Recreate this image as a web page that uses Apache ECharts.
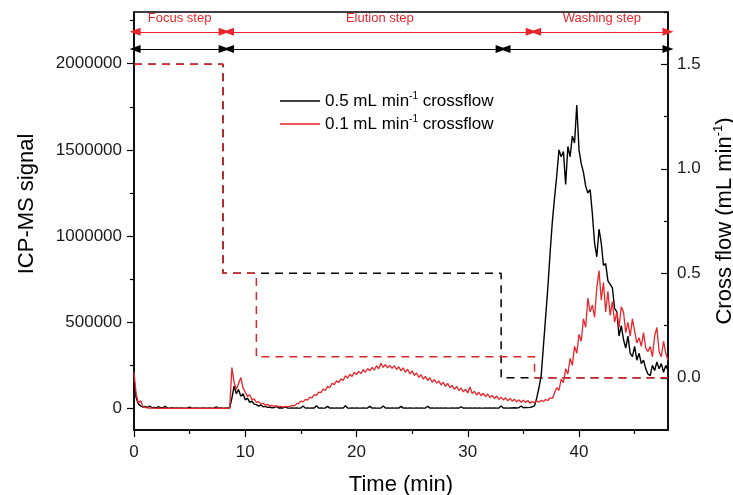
<!DOCTYPE html>
<html>
<head>
<meta charset="utf-8">
<script src="https://cdn.jsdelivr.net/npm/echarts@6/dist/echarts.min.js"></script>
<style>
    html, body { margin: 0; padding: 0; background: #fff; }
    #chart { width: 733px; height: 495px; }
</style>
</head>
<body>
<div id="chart"></div>
<script>
// ICP-MS traces: one reading every 0.2 min from 0 to 48 min, in thousands of counts
var sampleStep = 0.2;
var signalUnit = 1000;
var signal05 = [
    150, 60, 25, 15, 8, 12, 5, 14, 4, 6,
    3, 10, 4, 3, 12, 3, 2, 4, 2, 3,
    2, 3, 2, 2, 3, 8, 2, 2, 3, 2,
    2, 3, 2, 2, 3, 2, 2, 10, 2, 3,
    2, 2, 3, 3, 60, 130, 85, 110, 70, 85,
    50, 60, 35, 42, 25, 22, 14, 20, 10, 12,
    6, 8, 4, 5, 12, 3, 4, 3, 9, 3,
    2, 3, 2, 3, 2, 3, 14, 2, 3, 2,
    3, 2, 15, 2, 3, 2, 3, 12, 2, 3,
    2, 3, 2, 3, 2, 16, 3, 2, 3, 2,
    3, 2, 2, 3, 2, 3, 12, 2, 3, 2,
    2, 3, 14, 2, 3, 2, 3, 2, 3, 2,
    12, 2, 3, 2, 3, 2, 2, 3, 2, 3,
    2, 3, 13, 2, 3, 2, 3, 2, 3, 2,
    3, 2, 2, 3, 2, 3, 2, 10, 2, 3,
    2, 3, 2, 3, 2, 3, 2, 2, 3, 2,
    3, 2, 3, 2, 3, 14, 2, 3, 2, 3,
    3, 4, 3, 5, 14, 4, 6, 5, 6, 10,
    15, 60, 120, 190, 360, 530, 700, 900, 1080, 1220,
    1350, 1500, 1460, 1490, 1300, 1520, 1460, 1580, 1540, 1760,
    1500, 1420, 1370, 1290, 1250, 1270, 1130, 960, 880, 1040,
    960, 830, 840, 740, 720, 700, 580, 560, 420, 480,
    400, 350, 420, 320, 300, 360, 280, 320, 260, 280,
    230, 200, 190, 250, 220, 270, 230, 260, 210, 250,
    220
];
var signal01 = [
    210, 80, 30, 45, 12, 6, 3, 2, 2, 2,
    1, 2, 1, 1, 2, 1, 1, 2, 1, 1,
    2, 1, 1, 2, 1, 1, 2, 1, 1, 2,
    1, 1, 2, 1, 1, 2, 1, 1, 2, 1,
    1, 2, 1, 2, 237, 150, 110, 145, 180, 120,
    95, 70, 80, 50, 55, 35, 40, 25, 30, 20,
    24, 15, 18, 12, 15, 10, 12, 8, 12, 10,
    12, 18, 15, 26, 30, 42, 38, 52, 48, 66,
    62, 80, 76, 95, 92, 112, 104, 128, 120, 146,
    138, 160, 150, 172, 162, 190, 176, 198, 185, 210,
    196, 215, 202, 226, 210, 232, 218, 238, 222, 248,
    230, 262, 238, 255, 236, 250, 232, 248, 226, 242,
    218, 236, 210, 228, 200, 218, 192, 206, 180, 196,
    170, 186, 162, 178, 152, 168, 146, 160, 136, 152,
    128, 146, 120, 134, 110, 128, 104, 118, 96, 112,
    90, 124, 86, 100, 78, 94, 74, 88, 68, 84,
    62, 76, 58, 72, 52, 66, 48, 62, 44, 58,
    42, 54, 38, 50, 36, 48, 34, 46, 30, 40,
    34, 44, 36, 48, 40, 52, 46, 62, 58, 90,
    120, 105, 170, 150, 230, 200, 290, 250, 360, 320,
    430, 390, 520, 470, 640, 560, 600, 530, 700, 800,
    630, 730, 560, 680, 540, 620, 500, 560, 470, 590,
    560, 440, 500, 420, 520, 450, 380, 410, 360, 440,
    350, 330, 360, 300, 420, 470, 330, 300, 390, 320,
    280
];

// cross flow programmes (mL/min)
var flowTimes05 = [0, 8, 8, 33, 33, 48];
var flowValues05 = [1.5, 1.5, 0.5, 0.5, 0, 0];
var flowTimes01 = [0, 8, 8, 11, 11, 36, 36, 48];
var flowValues01 = [1.5, 1.5, 0.5, 0.5, 0.1, 0.1, 0, 0];

// step annotations at the top
var stepNames = ['Focus step', 'Elution step', 'Washing step'];
var stepSpans01 = [[0.1, 8.1], [8.5, 35.7], [36.1, 48]];
var stepSpans05 = [[0.1, 8.1], [8.5, 33.0], [33.35, 48]];
var stepLevel01 = 2185000;
var stepLevel05 = 2085000;

// ticks
var timeTicks = [0, 10, 20, 30, 40];
var timeMinorTicks = [5, 15, 25, 35, 45];
var signalTicks = [0, 500000, 1000000, 1500000, 2000000];
var signalMinorTicks = [250000, 750000, 1250000, 1750000, 2250000];
var flowTicks = [0, 0.5, 1.0, 1.5];
var flowMinorTicks = [0.25, 0.75, 1.25, 1.75];

var FONT = 'Liberation Sans, Arial, sans-serif';
var RED = '#e8262b';
var RED_DASH = '#d9262b';

function toPoints(values) {
    return values.map(function (v, i) {
        return [Math.round(i * sampleStep * 10) / 10, v * signalUnit];
    });
}
function zip(xs, ys) {
    return xs.map(function (x, i) { return [x, ys[i]]; });
}
function stepLines(spans, level) {
    return spans.map(function (s, i) {
        return [{ name: stepNames[i], coord: [s[0], level] }, { coord: [s[1], level] }];
    });
}

var chart = echarts.init(document.getElementById('chart'));
var tickLine = { color: '#000', width: 1.2 };

var option = {
    animation: false,
    textStyle: { fontFamily: FONT },
    grid: {
        left: 134, right: 65, top: 12, bottom: 65,
        outerBoundsMode: 'none', containLabel: false,
        show: true, borderColor: '#000', borderWidth: 1.5
    },
    legend: {
        left: 275, top: 86, orient: 'vertical',
        icon: 'rect', itemWidth: 40, itemHeight: 1.5, itemGap: 3,
        data: ['0.5 mL min-1 crossflow', '0.1 mL min-1 crossflow'],
        formatter: function (name) {
            return name.replace('min-1', 'min{sup|-1}');
        },
        textStyle: {
            fontFamily: FONT, fontSize: 17, color: '#000', lineHeight: 20,
            rich: { sup: { fontFamily: FONT, fontSize: 10, color: '#000', verticalAlign: 'top', lineHeight: 20 } }
        }
    },
    xAxis: [{
        type: 'value', min: 0, max: 48,
        name: 'Time (min)', nameLocation: 'middle', nameGap: 44,
        nameTextStyle: { fontSize: 22, color: '#000', fontFamily: FONT },
        axisLine: { onZero: false, lineStyle: { color: '#000', width: 1.5 } },
        axisTick: { customValues: timeTicks, length: 7, lineStyle: tickLine },
        axisLabel: { customValues: timeTicks, fontSize: 17, color: '#1a1a1a', margin: 14, fontFamily: FONT },
        splitLine: { show: false }
    }, {
        type: 'value', min: 0, max: 48, position: 'bottom',
        axisLine: { show: false, onZero: false },
        axisTick: { customValues: timeMinorTicks, length: 4, lineStyle: tickLine },
        axisLabel: { show: false },
        splitLine: { show: false }
    }],
    yAxis: [{
        type: 'value', min: -125000, max: 2300000, position: 'left',
        name: 'ICP-MS signal', nameLocation: 'middle', nameGap: 96, nameRotate: 90,
        nameTextStyle: { fontSize: 22, color: '#000', fontFamily: FONT, padding: [0, 0, 0, 34] },
        axisLine: { show: true, onZero: false, lineStyle: { color: '#000', width: 1.5 } },
        axisTick: { show: true, customValues: signalTicks, length: 7, lineStyle: tickLine },
        axisLabel: {
            customValues: signalTicks, fontSize: 17, color: '#1a1a1a', margin: 12, fontFamily: FONT,
            formatter: function (v) { return String(v); }
        },
        splitLine: { show: false }
    }, {
        type: 'value', min: -0.25, max: 1.75, position: 'right',
        name: 'Cross flow (mL min{sup|-1})', nameLocation: 'middle', nameGap: 40, nameRotate: 90,
        nameTextStyle: {
            fontSize: 22, color: '#000', fontFamily: FONT, lineHeight: 26,
            rich: { sup: { fontSize: 13, color: '#000', fontFamily: FONT, verticalAlign: 'top', lineHeight: 26 } }
        },
        axisLine: { show: true, onZero: false, lineStyle: { color: '#000', width: 1.5 } },
        axisTick: { show: true, inside: true, customValues: flowTicks, length: 7, lineStyle: tickLine },
        axisLabel: {
            customValues: flowTicks, fontSize: 17, color: '#1a1a1a', margin: 9, fontFamily: FONT,
            formatter: function (v) { return v.toFixed(1); }
        },
        splitLine: { show: false }
    }, {
        type: 'value', min: -125000, max: 2300000, position: 'left',
        axisLine: { show: false, onZero: false },
        axisTick: { show: true, customValues: signalMinorTicks, length: 4, lineStyle: tickLine },
        axisLabel: { show: false },
        splitLine: { show: false }
    }, {
        type: 'value', min: -0.25, max: 1.75, position: 'right',
        axisLine: { show: false, onZero: false },
        axisTick: { show: true, inside: true, customValues: flowMinorTicks, length: 4, lineStyle: tickLine },
        axisLabel: { show: false },
        splitLine: { show: false }
    }],
    series: [{
        name: 'flow 0.5', type: 'line', yAxisIndex: 1, symbol: 'none',
        data: zip(flowTimes05, flowValues05),
        lineStyle: { color: '#000', width: 1.5, type: [8, 6] },
        z: 1
    }, {
        name: 'flow 0.1', type: 'line', yAxisIndex: 1, symbol: 'none',
        data: zip(flowTimes01, flowValues01),
        lineStyle: { color: RED_DASH, width: 1.5, type: [8, 6] },
        z: 2
    }, {
        name: '0.5 mL min-1 crossflow', type: 'line', yAxisIndex: 0, symbol: 'none',
        color: '#000',
        data: toPoints(signal05),
        lineStyle: { color: '#000', width: 1.4 },
        markLine: {
            silent: true, symbol: ['triangle', 'triangle'], symbolSize: [8, 11],
            lineStyle: { color: '#000', width: 1.2, type: 'solid' },
            label: { show: false },
            data: stepLines(stepSpans05, stepLevel05)
        },
        z: 3
    }, {
        name: '0.1 mL min-1 crossflow', type: 'line', yAxisIndex: 0, symbol: 'none',
        color: RED,
        data: toPoints(signal01),
        lineStyle: { color: RED, width: 1.3 },
        markLine: {
            silent: true, symbol: ['triangle', 'triangle'], symbolSize: [8, 11],
            lineStyle: { color: RED, width: 1.2, type: 'solid' },
            label: {
                show: true, position: 'insideMiddleTop', distance: 7,
                formatter: '{b}', color: RED, fontSize: 13, fontFamily: FONT
            },
            data: stepLines(stepSpans01, stepLevel01)
        },
        z: 4
    }]
};

chart.setOption(option);
window.addEventListener('resize', function () {
    chart.resize();
});
</script>
</body>
</html>
